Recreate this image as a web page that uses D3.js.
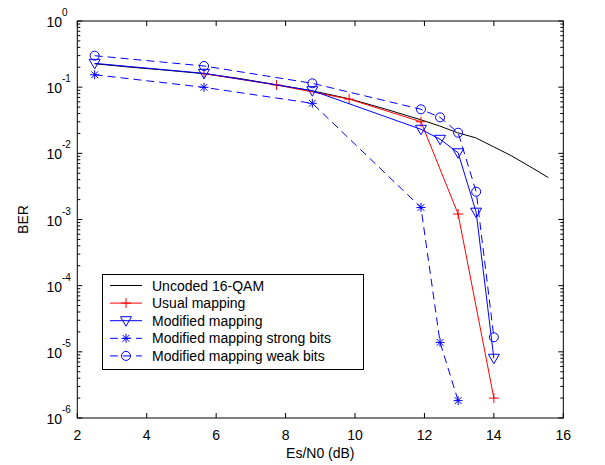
<!DOCTYPE html>
<html><head><meta charset="utf-8">
<script src="https://cdn.jsdelivr.net/npm/d3@7"></script>
<style>body{margin:0;background:#fff;} text{font-family:"Liberation Sans",Arial,sans-serif;}</style>
</head><body>
<svg id="c" width="605" height="465"></svg>
<script>
// ---- data ----
const xTicks = [2,4,6,8,10,12,14,16];
const yExponents = [0,-1,-2,-3,-4,-5,-6];

const uncodedX = [2.5,3.55,4.59,5.64,6.68,7.73,8.77,9.82,10.86,11.91,12.43,12.95,13.47,14.0,14.52,15.04,15.57];
const uncodedY = [0.226,0.2,0.18,0.16,0.135,0.109,0.088,0.067,0.047,0.032,0.026,0.0205,0.0172,0.0125,0.0091,0.0063,0.0043];

const usualX = [5.65,7.74,9.83,11.9,12.97,14.0];
const usualY = [0.16,0.108,0.066,0.030,0.00121,0.000002];

const modX = [2.5,5.65,8.77,11.9,12.45,12.97,13.49,14.0];
const modY = [0.229,0.162,0.0885,0.0231,0.0163,0.0102,0.00129,0.000008];

const strongX = [2.5,5.65,8.77,11.9,12.45,12.97];
const strongY = [0.154,0.0995,0.057,0.00152,0.0000139,0.00000183];

const weakX = [2.5,5.65,8.77,11.9,12.45,12.97,13.49,14.0];
const weakY = [0.299,0.209,0.1144,0.0463,0.035,0.0205,0.00263,0.0000166];

const legendLabels = ["Uncoded 16-QAM","Usual mapping","Modified mapping","Modified mapping strong bits","Modified mapping weak bits"];

// ---- layout ----
const L = 77.3, R = 563.3, T = 21, B = 418;
const x = d3.scaleLinear().domain([2,16]).range([L,R]);
const y = d3.scaleLog().domain([1e-6,1]).range([B,T]);
const svg = d3.select("#c");

const series = [
  {name:legendLabels[0], xs:uncodedX, ys:uncodedY, color:"#000", dash:null, marker:null},
  {name:legendLabels[1], xs:usualX, ys:usualY, color:"#ff0000", dash:null, marker:"plus"},
  {name:legendLabels[2], xs:modX, ys:modY, color:"#0000ff", dash:null, marker:"tri"},
  {name:legendLabels[3], xs:strongX, ys:strongY, color:"#0000ff", dash:"8,5", marker:"star"},
  {name:legendLabels[4], xs:weakX, ys:weakY, color:"#0000ff", dash:"8,5", marker:"circle"}
];

// axes frame with ticks
const ax = svg.append("g");
ax.append("rect").attr("x",L).attr("y",T).attr("width",R-L).attr("height",B-T)
  .attr("fill","none").attr("stroke","#000").attr("stroke-width",1);

// x ticks (bottom and top, inward)
xTicks.forEach(v=>{
  const px = x(v);
  ax.append("line").attr("x1",px).attr("x2",px).attr("y1",B).attr("y2",B-5).attr("stroke","#000");
  ax.append("line").attr("x1",px).attr("x2",px).attr("y1",T).attr("y2",T+5).attr("stroke","#000");
  ax.append("text").attr("x",px).attr("y",440).attr("text-anchor","middle")
    .attr("font-size",14).text(v);
});

// y ticks (major + minor) on left and right
yExponents.forEach(e=>{
  const v = Math.pow(10,e);
  const py = y(v);
  ax.append("line").attr("x1",L).attr("x2",L+5).attr("y1",py).attr("y2",py).attr("stroke","#000");
  ax.append("line").attr("x1",R).attr("x2",R-5).attr("y1",py).attr("y2",py).attr("stroke","#000");
  const t = ax.append("text").attr("x",62).attr("y",py+6).attr("text-anchor","end").attr("font-size",14).text("10");
  ax.append("text").attr("x",62).attr("y",py-5).attr("text-anchor","start").attr("font-size",10).text(String(e).replace("-","-"));
  if (e > -6) {
    for (let k=2;k<=9;k++){
      const pm = y(k*v/10);
      ax.append("line").attr("x1",L).attr("x2",L+3).attr("y1",pm).attr("y2",pm).attr("stroke","#000");
      ax.append("line").attr("x1",R).attr("x2",R-3).attr("y1",pm).attr("y2",pm).attr("stroke","#000");
    }
  }
});

// axis titles
svg.append("text").attr("x",(L+R)/2).attr("y",458).attr("text-anchor","middle").attr("font-size",14).text("Es/N0 (dB)");
svg.append("text").attr("transform",`translate(28,${(T+B)/2}) rotate(-90)`).attr("text-anchor","middle").attr("font-size",14).text("BER");

// markers
function drawMarker(g, kind, cx, cy, color){
  if (kind==="plus"){
    g.append("path").attr("d",`M${cx-5},${cy}H${cx+5}M${cx},${cy-5}V${cy+5}`).attr("stroke",color).attr("fill","none");
  } else if (kind==="tri"){
    g.append("path").attr("d",`M${cx-5.5},${cy-4}L${cx+5.5},${cy-4}L${cx},${cy+5.5}Z`).attr("stroke",color).attr("fill","none");
  } else if (kind==="circle"){
    g.append("circle").attr("cx",cx).attr("cy",cy).attr("r",4.5).attr("stroke",color).attr("fill","none");
  } else if (kind==="star"){
    const r=4.5, d=r*0.75;
    g.append("path").attr("d",`M${cx-r},${cy}H${cx+r}M${cx},${cy-r}V${cy+r}M${cx-d},${cy-d}L${cx+d},${cy+d}M${cx-d},${cy+d}L${cx+d},${cy-d}`)
      .attr("stroke",color).attr("fill","none");
  }
}

const line = d3.line().x(d=>x(d[0])).y(d=>y(d[1]));
const plot = svg.append("g");
series.forEach(s=>{
  const pts = s.xs.map((v,i)=>[v,s.ys[i]]);
  plot.append("path").attr("d",line(pts)).attr("fill","none").attr("stroke",s.color)
    .attr("stroke-width",1).attr("stroke-dasharray",s.dash);
  if (s.marker) pts.forEach(p=>drawMarker(plot,s.marker,x(p[0]),y(p[1]),s.color));
});

// legend
const lg = svg.append("g");
lg.append("rect").attr("x",102.5).attr("y",274.5).attr("width",261).attr("height",95)
  .attr("fill","#fff").attr("stroke","#000");
series.forEach((s,i)=>{
  const ly = 285.5 + i*17.6;
  lg.append("line").attr("x1",110).attr("x2",142).attr("y1",ly).attr("y2",ly)
    .attr("stroke",s.color).attr("stroke-dasharray",s.dash ? "8,5" : null);
  if (s.marker) drawMarker(lg,s.marker,126,ly,s.color);
  lg.append("text").attr("x",152).attr("y",ly+5).attr("font-size",14).text(s.name);
});
</script>
</body></html>
